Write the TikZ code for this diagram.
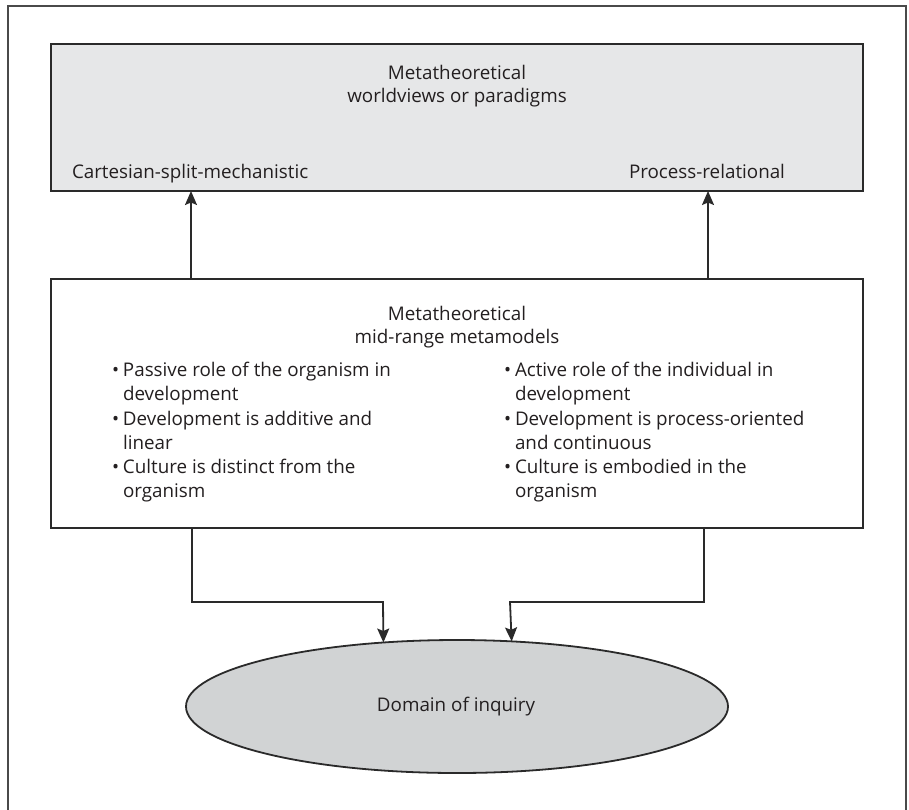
\documentclass[tikz,border=0pt]{standalone}
\usepackage{fontspec}
\setmainfont{Open Sans}
\usetikzlibrary{arrows.meta,shapes.geometric}
\definecolor{linec}{HTML}{2A2A2A}
\definecolor{textc}{HTML}{231F20}
\definecolor{topfill}{HTML}{E6E7E8}
\definecolor{domfill}{HTML}{D1D3D4}
\begin{document}
\begin{tikzpicture}[x=1pt,y=-1pt,
  box/.style={draw=linec, line width=1.8pt, inner sep=0pt, outer sep=0pt},
  txt/.style={text=textc, inner sep=0pt, outer sep=0pt, font=\fontsize{18.8}{24}\selectfont},
  arr/.style={draw=linec, line width=1.8pt, -{Stealth[length=14pt,width=12pt,inset=2.5pt]}},
  conn/.style={draw=linec, line width=1.8pt}]
\useasboundingbox (0,0) rectangle (909,809);
% outer frame (open at the bottom)
\draw[draw=linec!85, line width=1.6pt] (8,812) -- (8,6) -- (906,6) -- (906,812);
% boxes
\node[box, fill=topfill, minimum width=812pt, minimum height=147pt] (top) at (457,117.5) {};
\node[box, fill=white, minimum width=812pt, minimum height=249pt] (mid) at (457,403.5) {};
\node[box, ellipse, fill=domfill, minimum width=542pt, minimum height=133pt] (dom) at (457,706.5) {};
% top texts
\node[txt, anchor=base] (t1) at (457,79) {Metatheoretical};
\node[txt, anchor=base] (t2) at (457,102) {worldviews or paradigms};
\node[txt, anchor=base west] (cart) at (72,178) {Cartesian-split-mechanistic};
\node[txt, anchor=base east] (proc) at (785,178) {Process-relational};
% middle texts
\node[txt, anchor=base] (m1) at (457,320) {Metatheoretical};
\node[txt, anchor=base] (m2) at (457,343) {mid-range metamodels};
\node[txt, anchor=base west] (l1) at (112,376) {\makebox[11pt][l]{•}Passive role of the organism in};
\node[txt, anchor=base west] (l2) at (123,400) {development};
\node[txt, anchor=base west] (l3) at (112,425) {\makebox[11pt][l]{•}Development is additive and};
\node[txt, anchor=base west] (l4) at (123,449) {linear};
\node[txt, anchor=base west] (l5) at (112,473) {\makebox[11pt][l]{•}Culture is distinct from the};
\node[txt, anchor=base west] (l6) at (123,497) {organism};
\node[txt, anchor=base west] (r1) at (504,376) {\makebox[11pt][l]{•}Active role of the individual in};
\node[txt, anchor=base west] (r2) at (515,400) {development};
\node[txt, anchor=base west] (r3) at (504,425) {\makebox[11pt][l]{•}Development is process-oriented};
\node[txt, anchor=base west] (r4) at (515,449) {and continuous};
\node[txt, anchor=base west] (r5) at (504,473) {\makebox[11pt][l]{•}Culture is embodied in the};
\node[txt, anchor=base west] (r6) at (515,497) {organism};
% ellipse text
\node[txt, anchor=base] (d1) at (456,711) {Domain of inquiry};
% helper coordinates
\coordinate (xa) at (191,0);
\coordinate (xb) at (708,0);
\coordinate (xc) at (192,0);
\coordinate (xd) at (704,0);
\coordinate (jl) at (383,602);
\coordinate (jr) at (510,602);
% connectors
\draw[arr] (mid.north -| xa) -- (top.south -| xa);
\draw[arr] (mid.north -| xb) -- (top.south -| xb);
\draw[arr] (mid.south -| xc) |- (jl) -- (dom.139.15);
\draw[arr] (mid.south -| xd) |- (jr) -- (dom.50.9);
\end{tikzpicture}
\end{document}
